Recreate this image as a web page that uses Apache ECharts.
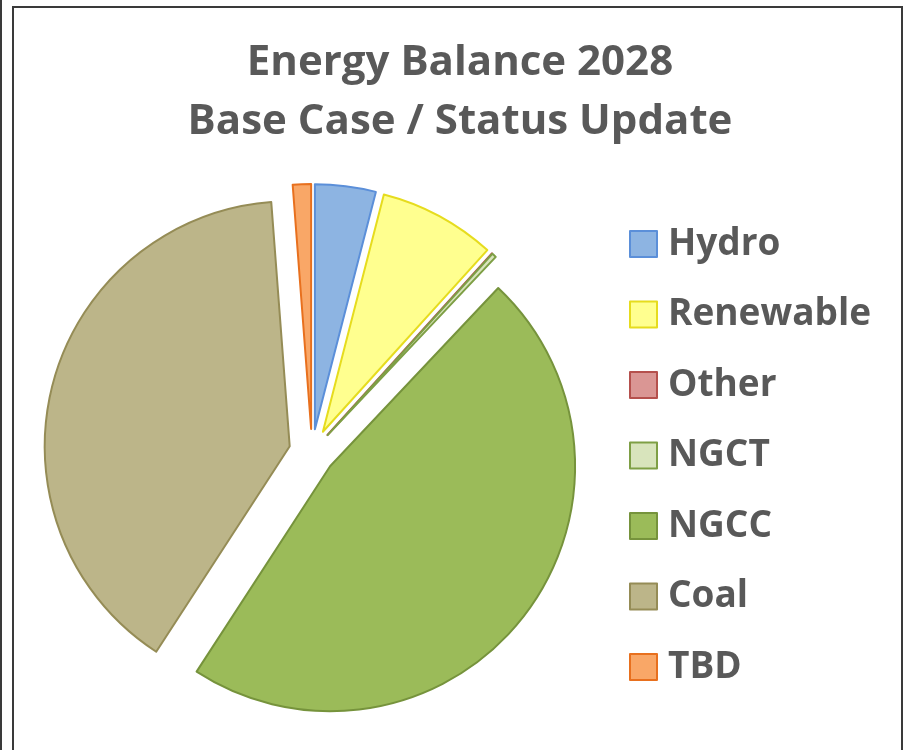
<!DOCTYPE html>
<html>
<head>
<meta charset="utf-8">
<script src="https://cdn.jsdelivr.net/npm/echarts@6/dist/echarts.min.js"></script>
<style>
html,body{margin:0;padding:0;background:#fff;}
#chart{width:907px;height:750px;}
</style>
</head>
<body>
<div id="chart"></div>
<script>
const titleLines = ['Energy Balance 2028', 'Base Case / Status Update'];
const categories = ['Hydro', 'Renewable', 'Other', 'NGCT', 'NGCC', 'Coal', 'TBD'];
const shares = [4.0, 7.7, 0.03, 0.3, 47.1, 39.6, 1.2];
const fillColors = ['#8DB4E2', '#FFFF8F', '#DA9694', '#D8E4BC', '#9BBB59', '#BCB589', '#F9A767'];
const borderColors = ['#5B8FD9', '#E6DC1E', '#B5504D', '#7E9F45', '#76933C', '#958C56', '#E8701E'];

const chart = echarts.init(document.getElementById('chart'));
const data = categories.map((name, i) => ({
  name: name,
  value: shares[i],
  selected: true,
  itemStyle: { color: fillColors[i], borderColor: borderColors[i], borderWidth: 2 }
}));

chart.setOption({
  animation: false,
  backgroundColor: '#ffffff',
  title: {
    text: titleLines.join('\n'),
    left: 455,
    textAlign: 'center',
    top: 29,
    textStyle: {
      fontFamily: 'Open Sans',
      fontWeight: 'bold',
      fontSize: 42,
      lineHeight: 59,
      color: '#595959'
    }
  },
  legend: {
    orient: 'vertical',
    left: 624,
    top: 219,
    itemWidth: 27,
    itemHeight: 26,
    itemGap: 30.5,
    icon: 'rect',
    selectedMode: false,
    data: categories,
    textStyle: {
      fontFamily: 'Open Sans',
      fontWeight: 'bold',
      fontSize: 37,
      lineHeight: 40,
      color: '#595959',
      padding: [0, 0, 0, 6]
    }
  },
  graphic: [
    { type: 'rect', shape: { x: 13, y: 7, width: 889, height: 800 }, style: { fill: 'none', stroke: '#3a3a3a', lineWidth: 2 }, silent: true },
    { type: 'line', shape: { x1: 1, y1: 0, x2: 1, y2: 750 }, style: { stroke: '#3a3a3a', lineWidth: 2 }, silent: true }
  ],
  series: [{
    type: 'pie',
    center: [312, 452],
    radius: 245,
    startAngle: 90,
    clockwise: true,
    selectedMode: 'multiple',
    selectedOffset: 23,
    avoidLabelOverlap: false,
    label: { show: false },
    labelLine: { show: false },
    emphasis: { disabled: true },
    data: data
  }]
});
</script>
</body>
</html>
